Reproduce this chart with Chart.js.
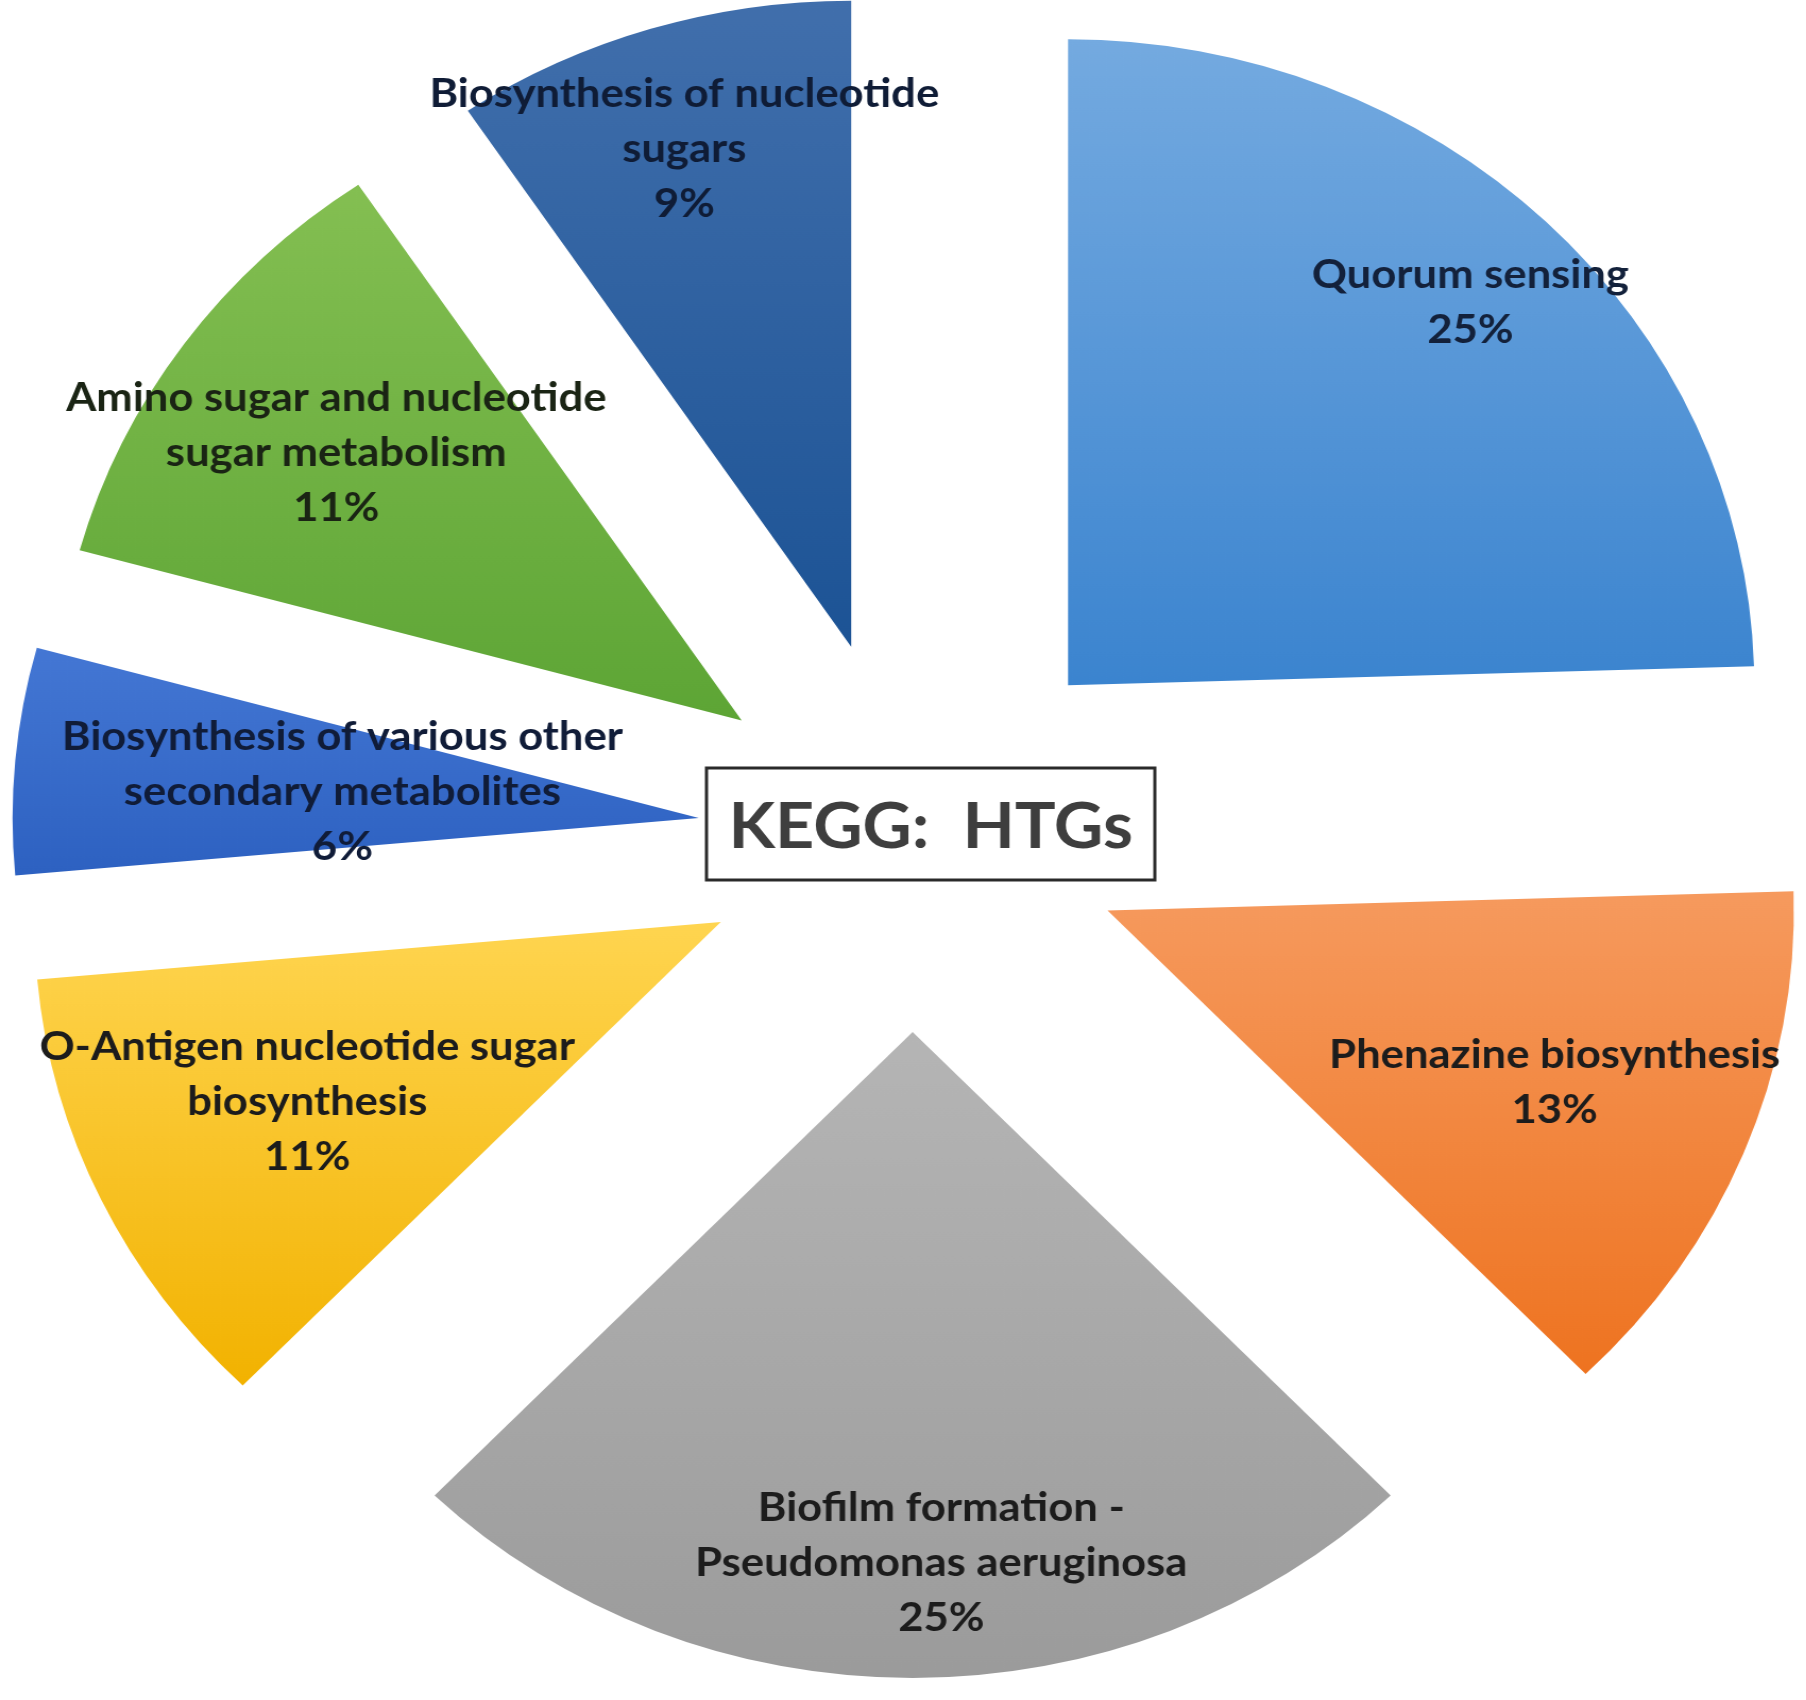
<!DOCTYPE html>
<html>
<head>
<meta charset="utf-8">
<script src="https://cdn.jsdelivr.net/npm/chart.js@4.4.0/dist/chart.umd.min.js"></script>
<style>
  html, body { margin: 0; padding: 0; background: #fff; }
  /* a figura original é levemente esticada na horizontal */
  #wrap { width: 1700px; height: 1700px; transform: scaleX(1.0624); transform-origin: 0 0; }
</style>
</head>
<body>
<div id="wrap"><canvas id="pieKegg" width="1700" height="1700"></canvas></div>
<script>
// Dados do gráfico
const categories = [
  ['Quorum sensing'],
  ['Phenazine biosynthesis'],
  ['Biofilm formation -', 'Pseudomonas aeruginosa'],
  ['O-Antigen nucleotide sugar', 'biosynthesis'],
  ['Biosynthesis of various other', 'secondary metabolites'],
  ['Amino sugar and nucleotide', 'sugar metabolism'],
  ['Biosynthesis of nucleotide', 'sugars']
];
const geneCounts = [13, 7, 13, 6, 3, 6, 5];
const chartTitle = 'KEGG:  HTGs';

// Cores (topo e base do degradê de cada fatia)
const topColors = ['#74aae0', '#f69a5e', '#b5b5b5', '#ffd550', '#4477d4', '#84bf52', '#416fac'];
const bottomColors = ['#3b84cf', '#ee7320', '#9b9b9b', '#f2b200', '#2d61c1', '#5da535', '#1c5395'];
const textColors = ['#13213b', '#1c1c1c', '#1c1c1c', '#1c1c1c', '#101c38', '#1a2414', '#0f1c36'];

// Deslocamento de cada fatia e posição do rótulo (fração do raio e do ângulo)
const explode = [210, 198, 196, 200, 202, 198, 198];
const labelRadius = [0.835, 0.703, 0.822, 0.663, 0.521, 0.722, 0.809];
const labelAngle = [0.505, 0.5, 0.467, 0.52, 0.475, 0.486, 0.485];

const RADIUS = 646;
const total = geneCounts.reduce((a, b) => a + b, 0);

// Degradê vertical de cada fatia
function sliceGradient(c) {
  const i = c.dataIndex;
  const area = c.chart.chartArea;
  if (!area) return topColors[i];
  const cy = (area.top + area.bottom) / 2;
  let before = 0;
  for (let k = 0; k < i; k++) before += geneCounts[k];
  const a0 = -Math.PI / 2 + 2 * Math.PI * before / total;
  const a1 = a0 + 2 * Math.PI * geneCounts[i] / total;
  let minY = cy, maxY = cy;
  for (let s = 0; s <= 40; s++) {
    const y = cy + RADIUS * Math.sin(a0 + (a1 - a0) * s / 40);
    minY = Math.min(minY, y);
    maxY = Math.max(maxY, y);
  }
  const g = c.chart.ctx.createLinearGradient(0, minY, 0, maxY);
  g.addColorStop(0, topColors[i]);
  g.addColorStop(1, bottomColors[i]);
  return g;
}

// Fatias destacadas do centro + rótulos + caixa do título
const explodePlugin = {
  id: 'explode',
  beforeDatasetsDraw(chart) {
    const ctx = chart.ctx;
    chart.getDatasetMeta(0).data.forEach((arc, i) => {
      const mid = (arc.startAngle + arc.endAngle) / 2;
      ctx.save();
      ctx.translate(Math.cos(mid) * explode[i], Math.sin(mid) * explode[i]);
      arc.draw(ctx);
      ctx.restore();
    });
    return false;
  },
  afterDraw(chart) {
    const ctx = chart.ctx;
    const meta = chart.getDatasetMeta(0);
    ctx.save();
    ctx.textAlign = 'center';
    ctx.textBaseline = 'alphabetic';
    ctx.font = 'bold 41px Lato';
    meta.data.forEach((arc, i) => {
      const ang = arc.startAngle + (arc.endAngle - arc.startAngle) * labelAngle[i];
      const mid = (arc.startAngle + arc.endAngle) / 2;
      const ox = arc.x + Math.cos(mid) * explode[i];
      const oy = arc.y + Math.sin(mid) * explode[i];
      const r = arc.outerRadius * labelRadius[i];
      const x = ox + Math.cos(ang) * r;
      const y = oy + Math.sin(ang) * r;
      const lines = categories[i].concat([Math.round(geneCounts[i] / total * 100) + '%']);
      ctx.fillStyle = textColors[i];
      lines.forEach((t, k) => {
        ctx.fillText(t, x, y + (k - (lines.length - 1) / 2) * 55 + 14);
      });
    });

    // caixa central com o título
    const a = chart.chartArea;
    const cx = (a.left + a.right) / 2 + 17;
    const cy = (a.top + a.bottom) / 2 - 12;
    ctx.fillStyle = '#ffffff';
    ctx.fillRect(cx - 211, cy - 56, 422, 112);
    ctx.strokeStyle = '#2a2a2a';
    ctx.lineWidth = 3;
    ctx.strokeRect(cx - 211, cy - 56, 422, 112);
    ctx.fillStyle = '#3e3e3e';
    ctx.font = 'bold 64px Lato';
    ctx.fillText(chartTitle, cx, cy + 24);
    ctx.restore();
  }
};

const pieKegg = new Chart(document.getElementById('pieKegg'), {
  type: 'pie',
  data: {
    labels: categories,
    datasets: [{
      data: geneCounts,
      backgroundColor: sliceGradient,
      borderWidth: 0,
      radius: RADIUS,
      clip: false
    }]
  },
  options: {
    responsive: false,
    animation: false,
    events: [],
    layout: { padding: { left: 18, right: 0, top: 0, bottom: 28 } },
    plugins: {
      legend: { display: false },
      tooltip: { enabled: false }
    }
  },
  plugins: [explodePlugin]
});
</script>
</body>
</html>
